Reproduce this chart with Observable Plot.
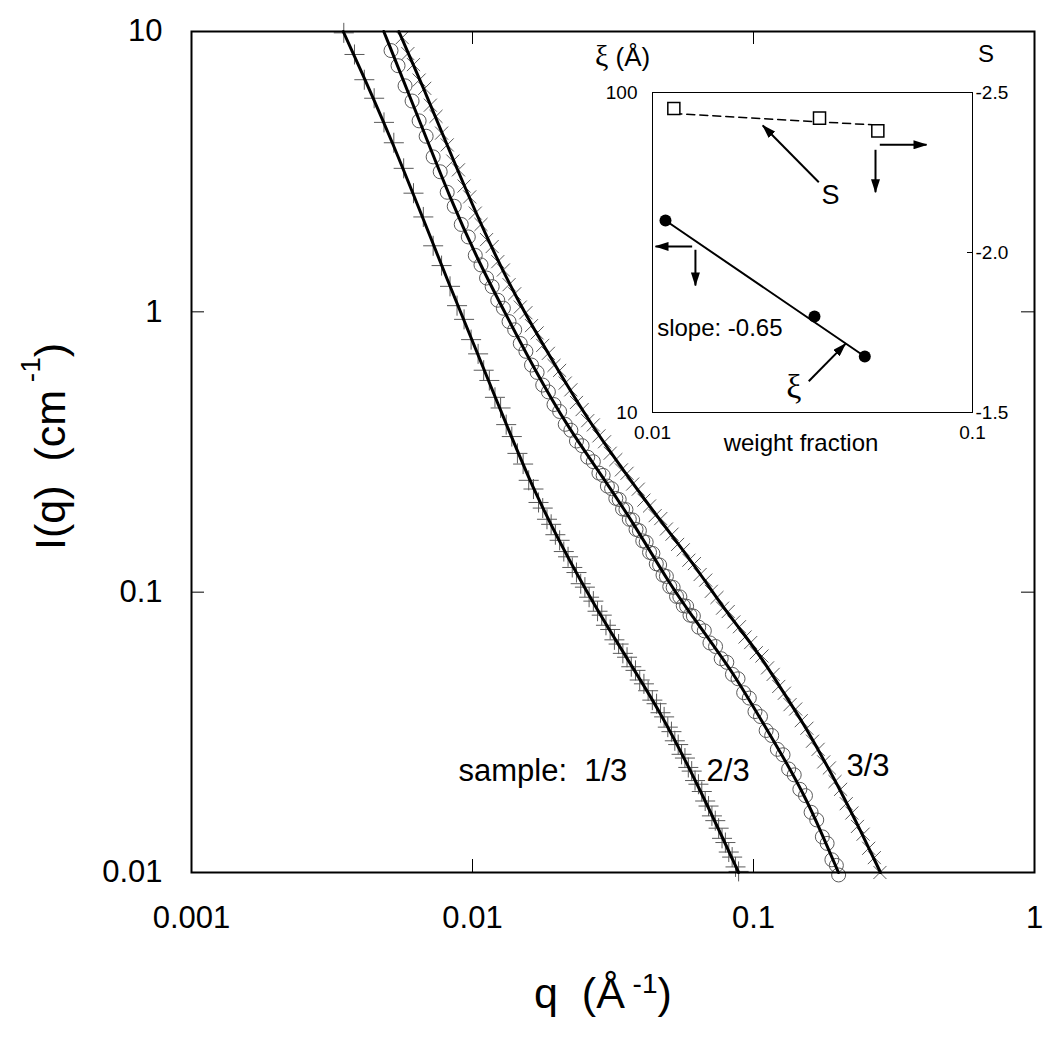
<!DOCTYPE html>
<html><head><meta charset="utf-8">
<script src="https://cdn.jsdelivr.net/npm/d3@7"></script>
<script src="https://cdn.jsdelivr.net/npm/@observablehq/plot@0.6"></script>
<style>
html,body{margin:0;padding:0;background:#fff;}
#chart{position:relative;width:1050px;height:1038px;}
#chart svg{position:absolute;left:0;top:0;}
</style></head><body><div id="chart"></div>
<script>
// ---------- main chart data ----------
const xTicks = [0.001, 0.01, 0.1, 1];
const xTickLabels = ["0.001", "0.01", "0.1", "1"];
const yTicks = [0.01, 0.1, 1, 10];
const yTickLabels = ["0.01", "0.1", "1", "10"];
const innerXTicks = [0.01, 0.1];
const innerYTicks = [0.1, 1];

// sample 1/3 (+ markers)
const markA_q = [0.003483,0.003802,0.004121,0.004467,0.004842,0.005248,0.005689,0.006166,0.006683,0.007244,0.007762,0.008318,0.00881,0.009333,0.009886,0.01047,0.01096,0.01148,0.01202,0.01259,0.01318,0.0138,0.01445,0.01514,0.01585,0.01648,0.01718,0.01778,0.01841,0.01905,0.01972,0.02042,0.02113,0.02188,0.02265,0.02344,0.02427,0.02512,0.0260,0.02692,0.02786,0.02884,0.02985,0.0309,0.03199,0.03311,0.03428,0.03548,0.03673,0.03802,0.03936,0.04074,0.04217,0.04365,0.04519,0.04667,0.04808,0.04955,0.05105,0.05248,0.05395,0.05546,0.05702,0.05861,0.06026,0.06194,0.06368,0.06546,0.0673,0.06918,0.07112,0.07311,0.07516,0.07727,0.07943,0.08166,0.08395,0.0863,0.08851];
const markA_I = [9.89,8.28,6.73,5.78,4.74,4.01,3.25,2.65,2.18,1.72,1.462,1.233,1.052,0.940,0.796,0.708,0.619,0.569,0.4955,0.454,0.396,0.359,0.3126,0.2864,0.2506,0.2333,0.2089,0.1995,0.182,0.1746,0.1603,0.1531,0.1396,0.1337,0.1225,0.1175,0.1072,0.1042,0.09594,0.0929,0.0855,0.0828,0.0762,0.0736,0.0676,0.0653,0.0605,0.0586,0.0542,0.0526,0.0486,0.0471,0.0445,0.0412,0.0400,0.03715,0.0359,0.0330,0.0318,0.0295,0.0286,0.0264,0.0256,0.0237,0.0230,0.02128,0.02065,0.01945,0.01799,0.01726,0.01592,0.01531,0.01439,0.01324,0.01279,0.01183,0.01135,0.01047,0.01009];
const fitA_q = [0.003467,0.005105,0.008147,0.01259,0.01648,0.02366,0.03334,0.04667,0.06471,0.08851];
const fitA_I = [10,4.266,1.288,0.4467,0.2291,0.1135,0.06383,0.03758,0.01972,0.01];

// sample 2/3 (open circles)
const markB_q = [0.005129,0.005433,0.005754,0.006095,0.006457,0.006839,0.007244,0.007674,0.008128,0.00861,0.00912,0.009661,0.01023,0.01072,0.01122,0.01175,0.0123,0.01288,0.01349,0.01413,0.01479,0.01549,0.01622,0.01698,0.01778,0.01862,0.0195,0.02042,0.02138,0.02239,0.02344,0.02455,0.0257,0.02692,0.02818,0.02917,0.0302,0.03126,0.03236,0.03327,0.0342,0.03516,0.03614,0.03715,0.03819,0.03926,0.04036,0.0415,0.04266,0.04385,0.04508,0.04634,0.04764,0.04898,0.05035,0.05176,0.05321,0.0547,0.05623,0.05781,0.05943,0.06109,0.06383,0.06683,0.06998,0.07328,0.07674,0.08035,0.08414,0.0881,0.09226,0.09661,0.1012,0.1059,0.1109,0.1161,0.1216,0.1274,0.1334,0.1396,0.1462,0.1531,0.1603,0.1679,0.1758,0.1828,0.1901,0.1972,0.2009];
const markB_I = [8.55,7.55,6.40,5.65,4.80,4.23,3.57,3.16,2.67,2.38,2.05,1.85,1.59,1.47,1.32,1.23,1.10,1.03,0.923,0.863,0.771,0.723,0.646,0.608,0.548,0.518,0.467,0.441,0.397,0.378,0.346,0.333,0.303,0.292,0.266,0.261,0.239,0.234,0.216,0.214,0.198,0.197,0.182,0.181,0.1675,0.1656,0.1524,0.1507,0.1387,0.1374,0.1262,0.125,0.1151,0.1138,0.1047,0.104,0.0966,0.0962,0.0895,0.0891,0.0828,0.0822,0.0750,0.0728,0.0659,0.0640,0.0579,0.0562,0.0509,0.0491,0.0438,0.0419,0.0375,0.0360,0.0321,0.0308,0.0275,0.0263,0.0234,0.0223,0.0198,0.0188,0.0164,0.0154,0.0134,0.0127,0.0111,0.0106,0.0098];
const fitB_q = [0.004834,0.006268,0.008351,0.01068,0.01332,0.01648,0.02178,0.02855,0.03802,0.05066,0.06116,0.07207,0.08487,0.1085,0.1279,0.1506,0.1746,0.2006];
const fitB_I = [10,5.224,2.512,1.462,0.955,0.634,0.389,0.2649,0.1718,0.1056,0.0811,0.0644,0.0513,0.03396,0.0257,0.01914,0.01387,0.01];

// sample 3/3 (x markers)
const markC_q = [0.005623,0.005888,0.006166,0.006457,0.006761,0.007079,0.007413,0.007762,0.008128,0.008511,0.008913,0.009333,0.009772,0.01023,0.01072,0.01122,0.01175,0.0123,0.01288,0.01349,0.01413,0.01479,0.01549,0.01622,0.01698,0.01778,0.01862,0.0195,0.02042,0.02138,0.02239,0.02344,0.02455,0.0257,0.02692,0.02818,0.02951,0.0309,0.03236,0.03388,0.03548,0.03715,0.0389,0.04074,0.04266,0.04467,0.04677,0.04898,0.05129,0.0537,0.05623,0.05888,0.06166,0.06457,0.06761,0.07079,0.07413,0.07762,0.08128,0.08511,0.08913,0.09333,0.09772,0.1023,0.1072,0.1122,0.1175,0.123,0.1288,0.1349,0.1413,0.1479,0.1549,0.1622,0.1698,0.1778,0.1862,0.195,0.2042,0.2138,0.2239,0.2344,0.2455,0.257,0.2692,0.2818];
const markC_I = [9.51,8.34,7.62,6.71,6.27,5.46,4.98,4.34,3.94,3.45,3.21,2.81,2.57,2.25,2.05,1.81,1.71,1.51,1.41,1.25,1.16,1.04,0.993,0.893,0.841,0.759,0.711,0.644,0.618,0.557,0.527,0.475,0.448,0.409,0.395,0.361,0.344,0.313,0.297,0.273,0.2655,0.243,0.233,0.213,0.203,0.1875,0.183,0.168,0.161,0.148,0.1416,0.130,0.1265,0.1156,0.1104,0.1007,0.0957,0.0877,0.0853,0.0783,0.0753,0.0692,0.0661,0.0608,0.0592,0.0537,0.0509,0.0461,0.0436,0.0397,0.0383,0.0348,0.0327,0.0294,0.0275,0.0248,0.0236,0.0211,0.0198,0.0176,0.0163,0.0146,0.0137,0.0122,0.0113,0.0100];
const fitC_q = [0.005468,0.006804,0.008351,0.01113,0.01446,0.01896,0.02483,0.03281,0.043,0.05636,0.06639,0.07818,0.09213,0.1085,0.1279,0.1506,0.1761,0.204,0.2403,0.2831];
const fitC_I = [10,6.06,3.671,1.872,1.097,0.687,0.4372,0.29,0.2003,0.1407,0.1118,0.08813,0.07116,0.05702,0.04383,0.03398,0.0257,0.0196,0.01411,0.01];

const sampleLabels = ["sample:\u00a0 1/3", "2/3", "3/3"];
const sampleLabelQ = [0.008916, 0.06805, 0.2143];
const sampleLabelI = [0.02128, 0.02128, 0.02216];

// ---------- inset data ----------
const insetXTicks = [0.01, 0.1];
const insetXTickLabels = ["0.01", "0.1"];
const xiTicks = [10, 100];
const sTicks = [-2.5, -2.0, -1.5];
const wXi = [0.01098, 0.03208, 0.04607];
const xiVals = [39.8, 19.95, 14.96];
const wXiFit = [0.01098, 0.04607];
const xiFit = [39.8, 14.96];
const wS = [0.01166, 0.03326, 0.0506];
const sVals = [-2.45, -2.42, -2.38];
const wSFit = [0.01166, 0.0506];
const sFit = [-2.434, -2.398];
// annotation arrows (inset coordinates: weight fraction, xi)
const arrW1 = [0.03309, 0.05132, 0.04976, 0.0133, 0.01362, 0.03078];
const arrXi1 = [52.45, 68.65, 66.22, 33.03, 32.25, 12.52];
const arrW2 = [0.02211, 0.07182, 0.04976, 0.01022, 0.01362, 0.0401];
const arrXi2 = [78.86, 68.65, 48.81, 33.03, 24.94, 16.39];
const insetTexts = ["slope: -0.65", "S", "\u03be"];
const insetTextW = [0.01034, 0.0360, 0.02766];
const insetTextXi = [17.28, 44.99, 11.10];

// ---------- build ----------
const FONT = '"Liberation Sans", Arial, Helvetica, sans-serif';
const SERIF = '"Liberation Serif", "Times New Roman", serif';
const W = 1050, H = 1038;
const rows = (qs, Is) => qs.map((q, i) => ({q, I: Is[i]}));
const rA = rows(markA_q, markA_I), rB = rows(markB_q, markB_I), rC = rows(markC_q, markC_I);
const fA = rows(fitA_q, fitA_I), fB = rows(fitB_q, fitB_I), fC = rows(fitC_q, fitC_I);
const labRows = sampleLabels.map((t, i) => ({t, q: sampleLabelQ[i], I: sampleLabelI[i]}));
const xLab = new Map(xTicks.map((t, i) => [t, xTickLabels[i]]));
const yLab = new Map(yTicks.map((t, i) => [t, yTickLabels[i]]));
const MARK = "#5a5a5a";

const main = Plot.plot({
  width: W, height: H,
  marginLeft: 191, marginRight: 16, marginTop: 31, marginBottom: 166,
  style: {background: "transparent", fontFamily: FONT, fontSize: "31px", color: "#000"},
  x: {type: "log", domain: [0.001, 1], ticks: xTicks, tickFormat: d => xLab.get(d), tickSize: 0, tickPadding: 33, label: null},
  y: {type: "log", domain: [0.01, 10], ticks: yTicks, tickFormat: d => yLab.get(d), tickSize: 0, tickPadding: 29, label: null},
  marks: [
    Plot.ruleX(innerXTicks, {insetTop: 828, stroke: "#000", strokeWidth: 1}),
    Plot.ruleX(innerXTicks, {insetBottom: 828, stroke: "#000", strokeWidth: 1}),
    Plot.ruleY(innerYTicks, {insetRight: 830, stroke: "#000", strokeWidth: 1}),
    Plot.ruleY(innerYTicks, {insetLeft: 830, stroke: "#000", strokeWidth: 1}),
    Plot.dot(rA, {x: "q", y: "I", symbol: "plus", r: 6.5, stroke: MARK, strokeWidth: 1}),
    Plot.dot(rB, {x: "q", y: "I", symbol: "circle", r: 7, fill: "none", stroke: MARK, strokeWidth: 1}),
    Plot.dot(rC, {x: "q", y: "I", symbol: "times", r: 6, stroke: MARK, strokeWidth: 1}),
    Plot.line(fA, {x: "q", y: "I", curve: "basis", stroke: "#000", strokeWidth: 3}),
    Plot.line(fB, {x: "q", y: "I", curve: "basis", stroke: "#000", strokeWidth: 3}),
    Plot.line(fC, {x: "q", y: "I", curve: "basis", stroke: "#000", strokeWidth: 3}),
    Plot.text(labRows, {x: "q", y: "I", text: "t", textAnchor: "start", lineAnchor: "bottom", fontSize: 31, fontFamily: FONT, fill: "#000"}),
    Plot.frame({stroke: "#000", strokeWidth: 2})
  ]
});

const iLab = new Map(insetXTicks.map((t, i) => [t, insetXTickLabels[i]]));
const insetMargins = {marginLeft: 652, marginRight: W - 972, marginTop: 92, marginBottom: H - 412};
const xiRows = wXi.map((w, i) => ({w, v: xiVals[i]}));
const xiFitRows = wXiFit.map((w, i) => ({w, v: xiFit[i]}));
const sRows = wS.map((w, i) => ({w, v: sVals[i]}));
const sFitRows = wSFit.map((w, i) => ({w, v: sFit[i]}));
const arrRows = arrW1.map((w, i) => ({x1: w, y1: arrXi1[i], x2: arrW2[i], y2: arrXi2[i]}));
const itRows = insetTexts.map((t, i) => ({t, w: insetTextW[i], v: insetTextXi[i]}));

const insetA = Plot.plot({
  width: W, height: H, ...insetMargins,
  style: {background: "transparent", fontFamily: FONT, fontSize: "19px", color: "#000"},
  x: {type: "log", domain: [0.01, 0.1], ticks: insetXTicks, tickFormat: d => iLab.get(d), tickSize: 0, tickPadding: 13, label: null},
  y: {type: "log", domain: [10, 100], ticks: xiTicks, tickFormat: d => String(d), tickSize: 0, tickPadding: 15, label: null},
  marks: [
    Plot.frame({stroke: "#000", strokeWidth: 1, fill: "#fff"}),
    Plot.line(xiFitRows, {x: "w", y: "v", stroke: "#000", strokeWidth: 2}),
    Plot.dot(xiRows, {x: "w", y: "v", r: 6, fill: "#000"}),
    Plot.link(arrRows, {x1: "x1", y1: "y1", x2: "x2", y2: "y2", stroke: "#000", strokeWidth: 2}),
    Plot.text(itRows.slice(0, 1), {x: "w", y: "v", text: "t", textAnchor: "start", lineAnchor: "bottom", fontSize: 24, fontFamily: FONT, fill: "#000"}),
    Plot.text(itRows.slice(1, 2), {x: "w", y: "v", text: "t", textAnchor: "middle", lineAnchor: "bottom", fontSize: 27, fontFamily: FONT, fill: "#000"}),
    Plot.text(itRows.slice(2, 3), {x: "w", y: "v", text: "t", textAnchor: "middle", lineAnchor: "bottom", fontSize: 34, fontFamily: SERIF, fill: "#000"})
  ]
});

const insetB = Plot.plot({
  width: W, height: H, ...insetMargins,
  style: {background: "transparent", fontFamily: FONT, fontSize: "19px", color: "#000"},
  x: {type: "log", domain: [0.01, 0.1], axis: null},
  y: {domain: [-1.5, -2.5], axis: "right", ticks: sTicks, tickFormat: d => d.toFixed(1), tickSize: 0, tickPadding: 3, label: null},
  marks: [
    Plot.ruleY([sTicks[1]], {insetLeft: 315, stroke: "#000", strokeWidth: 1}),
    Plot.line(sFitRows, {x: "w", y: "v", stroke: "#000", strokeWidth: 1.5, strokeDasharray: "8,5"}),
    Plot.dot(sRows, {x: "w", y: "v", symbol: "square", r: 6.8, fill: "#fff", stroke: "#000", strokeWidth: 1.5})
  ]
});

const root = document.getElementById("chart");
root.appendChild(main);
root.appendChild(insetA);
root.appendChild(insetB);

// filled arrowheads on the inset annotation arrows
const sa = d3.select(insetA);
sa.append("defs").append("marker")
  .attr("id", "ahead").attr("viewBox", "0 0 14 9").attr("refX", 13).attr("refY", 4.5)
  .attr("markerWidth", 14).attr("markerHeight", 9).attr("markerUnits", "userSpaceOnUse").attr("orient", "auto")
  .append("path").attr("d", "M0,0L14,4.5L0,9Z").attr("fill", "#000");
sa.selectAll('g[aria-label="link"] path, g[aria-label="link"] line').attr("marker-end", "url(#ahead)");

// axis titles (explicit text-anchor: Plot's svg defaults to middle)
const sm = d3.select(main);
const xt = sm.append("text").attr("x", 534).attr("y", 1008).attr("text-anchor", "start").attr("font-size", 43).attr("font-family", FONT).attr("fill", "#000");
xt.append("tspan").text("q\u00a0 (\u00c5");
xt.append("tspan").attr("font-size", 28).attr("dy", -15).text("\u00a0-1");
xt.append("tspan").attr("dy", 15).text(")");

const yt = sm.append("text").attr("transform", "translate(65,550) rotate(-90)").attr("text-anchor", "start").attr("font-size", 43).attr("font-family", FONT).attr("fill", "#000");
yt.append("tspan").text("I(q)\u00a0 (cm");
yt.append("tspan").attr("font-size", 28).attr("dy", -25).text("\u00a0-1");
yt.append("tspan").attr("dy", 25).text(")");

const xiT = sa.append("text").attr("x", 595).attr("y", 66).attr("text-anchor", "start").attr("fill", "#000");
xiT.append("tspan").attr("font-family", SERIF).attr("font-size", 30).text("\u03be");
xiT.append("tspan").attr("font-family", FONT).attr("font-size", 26).text(" (\u00c5)");
sa.append("text").attr("x", 978).attr("y", 62).attr("text-anchor", "start").attr("font-family", FONT).attr("font-size", 24).attr("fill", "#000").text("S");
sa.append("text").attr("x", 801).attr("y", 451).attr("text-anchor", "middle").attr("font-family", FONT).attr("font-size", 24).attr("fill", "#000").text("weight fraction");
</script></body></html>
